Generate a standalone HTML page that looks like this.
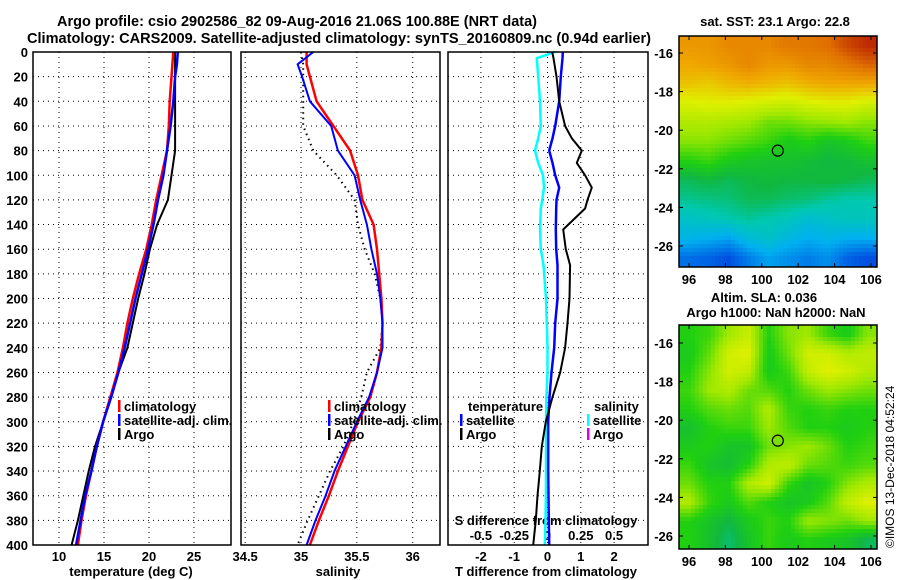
<!DOCTYPE html>
<html><head><meta charset="utf-8"><style>
html,body{margin:0;padding:0;background:#fff;}
svg{display:block;font-family:"Liberation Sans",sans-serif;font-weight:bold;}
</style></head><body>
<svg id="fig" width="900" height="580" viewBox="0 0 900 580" xmlns="http://www.w3.org/2000/svg">
<text x="297" y="26" font-size="15" text-anchor="middle" textLength="480" lengthAdjust="spacingAndGlyphs">Argo profile: csio 2902586_82 09-Aug-2016 21.06S 100.88E (NRT data)</text>
<text x="339" y="43" font-size="15" text-anchor="middle" textLength="624" lengthAdjust="spacingAndGlyphs">Climatology: CARS2009. Satellite-adjusted climatology: synTS_20160809.nc (0.94d earlier)</text>
<text x="775" y="26" font-size="13" text-anchor="middle">sat. SST: 23.1 Argo: 22.8</text>
<text x="764" y="302" font-size="13" text-anchor="middle">Altim. SLA: 0.036</text>
<text x="776" y="317" font-size="13" text-anchor="middle">Argo h1000: NaN h2000: NaN</text>
<text x="0" y="0" font-size="12" font-weight="normal" transform="translate(894,548) rotate(-90)">©IMOS 13-Dec-2018 04:52:24</text>
<g id="layer"></g>
</svg>
<script>
// ---- profile data (depth in m) ----
const depths = [0,10,20,40,60,80,100,120,140,160,180,200,220,240,260,280,300,320,340,360,380,400];
const tempClim = [22.7,22.6,22.5,22.3,22.2,22.0,21.4,20.8,20.3,19.7,18.9,18.2,17.6,17.1,16.5,15.7,14.9,14.2,13.6,13.0,12.5,12.1];
const tempSat  = [23.2,23.1,22.9,22.7,22.4,22.0,21.6,21.0,20.5,19.9,19.2,18.5,17.9,17.3,16.6,15.8,14.9,14.2,13.6,12.9,12.4,11.9];
const tempArgo = [22.9,22.9,22.9,22.9,22.9,22.9,22.5,22.1,20.9,20.1,19.5,18.8,18.2,17.6,16.6,15.8,14.9,14.0,13.3,12.7,12.1,11.4];
const salClim = [35.05,35.05,35.08,35.14,35.29,35.44,35.51,35.55,35.65,35.68,35.70,35.72,35.73,35.72,35.68,35.62,35.51,35.42,35.33,35.25,35.16,35.08];
const salSat  = [35.11,34.97,35.01,35.08,35.27,35.33,35.48,35.53,35.59,35.63,35.68,35.71,35.73,35.73,35.68,35.61,35.50,35.40,35.30,35.22,35.13,35.05];
const salArgo = [35.00,35.02,35.02,35.02,35.02,35.11,35.32,35.48,35.51,35.57,35.66,35.71,35.73,35.71,35.59,35.54,35.47,35.38,35.26,35.16,35.06,34.97];
const diffDepths = [0,5,20,40,60,70,80,90,100,110,120,127,144,160,173,200,220,240,260,280,300,320,340,360,380,400];
const tDiffSat  = [0.46,0.45,0.40,0.35,0.23,0.15,0.05,0.15,0.23,0.35,0.27,0.26,0.25,0.26,0.30,0.30,0.23,0.20,0.12,0.06,0.02,0.02,0.02,0.03,0.04,0.05];
const tDiffArgo = [0.14,0.18,0.27,0.35,0.53,0.73,1.03,0.88,1.13,1.33,1.20,1.13,0.47,0.55,0.68,0.66,0.60,0.53,0.38,0.15,-0.05,-0.17,-0.23,-0.30,-0.35,-0.43];
const sDiffSat  = [0.056,-0.08,-0.07,-0.056,-0.05,-0.07,-0.094,-0.07,-0.034,-0.026,-0.04,-0.05,-0.056,-0.05,-0.03,-0.011,-0.005,0.0,0.0,-0.008,-0.011,-0.011,-0.011,-0.012,-0.015,-0.02];
const depthTicks = [0,20,40,60,80,100,120,140,160,180,200,220,240,260,280,300,320,340,360,380,400];
const tempTicks = [10,15,20,25];
const salTicks = [34.5,35,35.5,36];
const tDiffTicks = [-2,-1,0,1,2];
const sDiffTicks = [-0.5,-0.25,0,0.25,0.5];
const sDiffLabels = ["-0.5","-0.25","0","0.25","0.5"];
// ---- map data (normalized colour index 0..1, rows north->south) ----
const sstGrid = [
[0.88,0.88,0.90,0.90,0.90,0.92,0.92,0.93,0.96,0.98],
[0.86,0.87,0.88,0.90,0.88,0.88,0.90,0.90,0.92,0.94],
[0.83,0.82,0.84,0.85,0.84,0.83,0.85,0.86,0.86,0.86],
[0.77,0.78,0.78,0.77,0.76,0.75,0.77,0.78,0.78,0.76],
[0.72,0.72,0.71,0.70,0.66,0.66,0.68,0.69,0.70,0.68],
[0.68,0.68,0.66,0.64,0.62,0.58,0.60,0.56,0.58,0.62],
[0.60,0.62,0.58,0.56,0.55,0.55,0.54,0.52,0.53,0.55],
[0.50,0.52,0.50,0.52,0.53,0.52,0.52,0.53,0.52,0.50],
[0.45,0.46,0.47,0.50,0.50,0.48,0.47,0.44,0.42,0.42],
[0.38,0.40,0.42,0.44,0.42,0.40,0.36,0.38,0.40,0.40],
[0.32,0.30,0.28,0.35,0.38,0.33,0.30,0.32,0.30,0.30],
[0.20,0.18,0.15,0.22,0.28,0.25,0.22,0.25,0.18,0.15]];
const slaGrid = [
[0.60,0.62,0.70,0.75,0.60,0.68,0.70,0.62,0.58,0.68],
[0.58,0.65,0.76,0.78,0.58,0.66,0.76,0.76,0.72,0.74],
[0.60,0.68,0.76,0.74,0.58,0.62,0.74,0.78,0.76,0.72],
[0.62,0.70,0.72,0.66,0.64,0.60,0.66,0.70,0.68,0.66],
[0.60,0.64,0.66,0.64,0.72,0.62,0.60,0.62,0.60,0.60],
[0.55,0.60,0.62,0.62,0.70,0.64,0.60,0.60,0.58,0.60],
[0.58,0.60,0.56,0.56,0.66,0.68,0.70,0.66,0.60,0.62],
[0.62,0.56,0.54,0.60,0.72,0.74,0.66,0.64,0.62,0.64],
[0.66,0.60,0.60,0.72,0.76,0.62,0.56,0.60,0.68,0.72],
[0.72,0.62,0.58,0.64,0.60,0.56,0.58,0.64,0.74,0.78],
[0.60,0.56,0.52,0.58,0.62,0.60,0.70,0.68,0.66,0.70],
[0.60,0.55,0.48,0.56,0.62,0.58,0.60,0.58,0.56,0.50]];
const lonTicks = [96,98,100,102,104,106];
const latTicks = [-16,-18,-20,-22,-24,-26];
const argoLon = 100.88, argoLat = -21.06;

const NS="http://www.w3.org/2000/svg";
const layer=document.getElementById('layer');
function mk(tag,at,parent){const e=document.createElementNS(NS,tag);for(const k in at)e.setAttribute(k,at[k]);(parent||layer).appendChild(e);return e;}
function txt(s,x,y,anchor,size){const e=mk('text',{x:x,y:y,'text-anchor':anchor||'middle','font-size':size||13});e.textContent=s;return e;}

const Y0=52,Y1=545;
const yD=d=>Y0+d*(Y1-Y0)/400;
const xT=t=>59+(t-10)*9;
const xS=s=>301+(s-35)*111.7;
const xTd=d=>547.5+d*33.3;
const xSd=d=>547.5+d*133.2;

const panels=[{x0:33,x1:231,name:'temperature-panel'},{x0:241,x1:440,name:'salinity-panel'},{x0:448,x1:648,name:'difference-panel'}];
panels.forEach((p,i)=>{
  depthTicks.forEach(d=>{
    if(d===0||d===400)return;
    const g=mk('line',{x1:p.x0,x2:p.x1,y1:yD(d),y2:yD(d),stroke:'#000','stroke-width':1,'stroke-dasharray':'1,4'});
    
    
  });
  const vt=i===0?tempTicks.map(xT):i===1?salTicks.map(xS):tDiffTicks.map(xTd);
  vt.forEach(x=>{
    const g=mk('line',{x1:x,x2:x,y1:Y0,y2:Y1,stroke:'#000','stroke-width':1,'stroke-dasharray':'1,4'});
    
    
  });
});
depthTicks.forEach(d=>{
  const t=txt(String(d),28,yD(d)+5,'end');
  
  
});
tempTicks.forEach(v=>{const t=txt(String(v),xT(v),561);
  
  });
salTicks.forEach(v=>{const t=txt(String(v),xS(v),561);
  
  });
tDiffTicks.forEach(v=>{const t=txt(String(v),xTd(v),561);
  
  });
sDiffTicks.forEach((v,i)=>{const t=txt(sDiffLabels[i],xSd(v),540);
  
  });
let t;
t=txt('temperature (deg C)',131,576);
t=txt('salinity',338,576);
t=txt('T difference from climatology',546,576);
t=txt('S difference from climatology',546,525);

function line(xs,ds,xf,color,w,dash,name){
  const pts=xs.map((v,i)=>xf(v).toFixed(1)+','+yD(ds[i]).toFixed(1)).join(' ');
  const at={points:pts,fill:'none',stroke:color,'stroke-width':w,'stroke-linejoin':'round'};
  if(dash)at['stroke-dasharray']=dash;
  const l=mk('polyline',at);
  
  
}
line(tempArgo,depths,xT,'#000',2,null,'temperature-argo-line');
line(tempClim,depths,xT,'#f00',2.5,null,'temperature-climatology-line');
line(tempSat,depths,xT,'#00f',2.5,null,'temperature-satellite-line');
line(salArgo,depths,xS,'#000',2,'1.5,4','salinity-argo-line');
line(salClim,depths,xS,'#f00',2.5,null,'salinity-climatology-line');
line(salSat,depths,xS,'#00f',2,null,'salinity-satellite-line');
line(sDiffSat,diffDepths,xSd,'#00ffff',2.5,null,'s-difference-satellite-line');
line(tDiffSat,diffDepths,xTd,'#00f',2.5,null,'t-difference-satellite-line');
line(tDiffArgo,diffDepths,xTd,'#000',2,null,'t-difference-argo-line');

panels.forEach(p=>{
  const r=mk('rect',{x:p.x0,y:Y0,width:p.x1-p.x0,height:Y1-Y0,fill:'none',stroke:'#000','stroke-width':1.5});
  
  
});

function legend(x,y,items,name){
  items.forEach((it,i)=>{
    const m=mk('rect',{x:x,y:y+i*14-11,width:2.5,height:12,fill:it[1]});
    
    
    const tt=txt(it[0],x+6,y+i*14,'start');
    
    
  });
}
legend(118,411,[['climatology','#f00'],['satellite-adj. clim.','#00f'],['Argo','#000']],'temperature-legend');
legend(328,411,[['climatology','#f00'],['satellite-adj. clim.','#00f'],['Argo','#000']],'salinity-legend');
t=txt('temperature',468,411,'start');
t=txt('salinity',594,411,'start');
legend(460,425,[['satellite','#00f'],['Argo','#000']],'t-difference-legend');
legend(587,425,[['satellite','#00ffff'],['Argo','#e000e0']],'s-difference-legend');

// ---- maps ----
const stops=[[0,[0,30,150]],[0.15,[0,80,225]],[0.3,[0,176,240]],[0.42,[0,200,176]],[0.52,[16,184,64]],[0.6,[32,208,16]],[0.7,[160,232,0]],[0.78,[224,240,0]],[0.86,[240,168,0]],[0.93,[224,112,0]],[1,[176,16,0]]];
function cmap(v){v=Math.max(0,Math.min(1,v));for(let i=1;i<stops.length;i++){if(v<=stops[i][0]){const a=stops[i-1],b=stops[i],f=(v-a[0])/(b[0]-a[0]);return 'rgb('+a[1].map((c,k)=>Math.round(c+(b[1][k]-c)*f)).join(',')+')';}}return 'rgb(176,16,0)';}
function drawMap(grid,x0,x1,y0,y1,lat16y,name,cell){
  const nr=grid.length,nc=grid[0].length,W=x1-x0,H=y1-y0;
  const lonX=l=>689+(l-96)*18.2;
  const latY=la=>lat16y+(-16-la)*19.3;
  for(let py=y0;py<y1;py+=cell){
    for(let px=x0;px<x1;px+=cell){
      let fy=((py+cell/2-y0)/H)*nr-0.5, fx=((px+cell/2-x0)/W)*nc-0.5;
      fy=Math.max(0,Math.min(nr-1,fy));fx=Math.max(0,Math.min(nc-1,fx));
      const r0=Math.floor(fy),c0=Math.floor(fx),r1=Math.min(nr-1,r0+1),c1=Math.min(nc-1,c0+1),a=fy-r0,b=fx-c0;
      const v=grid[r0][c0]*(1-a)*(1-b)+grid[r0][c1]*(1-a)*b+grid[r1][c0]*a*(1-b)+grid[r1][c1]*a*b;
      const c=mk('rect',{x:px,y:py,width:Math.min(cell,x1-px)+0.3,height:Math.min(cell,y1-py)+0.3,fill:cmap(v)});
      
      
    }
  }
  const fr=mk('rect',{x:x0,y:y0,width:W,height:H,fill:'none',stroke:'#000','stroke-width':1.5});
  
  
  lonTicks.forEach(l=>{
    const tk=mk('line',{x1:lonX(l),x2:lonX(l),y1:y1,y2:y1-4,stroke:'#000'});
    
    
    const tk2=mk('line',{x1:lonX(l),x2:lonX(l),y1:y0,y2:y0+4,stroke:'#000'});
    
    
    const lb=txt(String(l),lonX(l),y1+17);
    
    
  });
  latTicks.forEach(la=>{
    const tk=mk('line',{x1:x0,x2:x0+4,y1:latY(la),y2:latY(la),stroke:'#000'});
    
    
    const tk2=mk('line',{x1:x1,x2:x1-4,y1:latY(la),y2:latY(la),stroke:'#000'});
    
    
    const lb=txt(String(la),673,latY(la)+5,'end');
    
    
  });
  const m=mk('circle',{cx:lonX(argoLon),cy:latY(argoLat),r:5.5,fill:'none',stroke:'#000','stroke-width':1.2});
  
  
}
drawMap(sstGrid,679,877,36,267,53,'sst-map',4);
drawMap(slaGrid,679,877,325,549,343,'sla-map',4);
</script>
</body></html>
